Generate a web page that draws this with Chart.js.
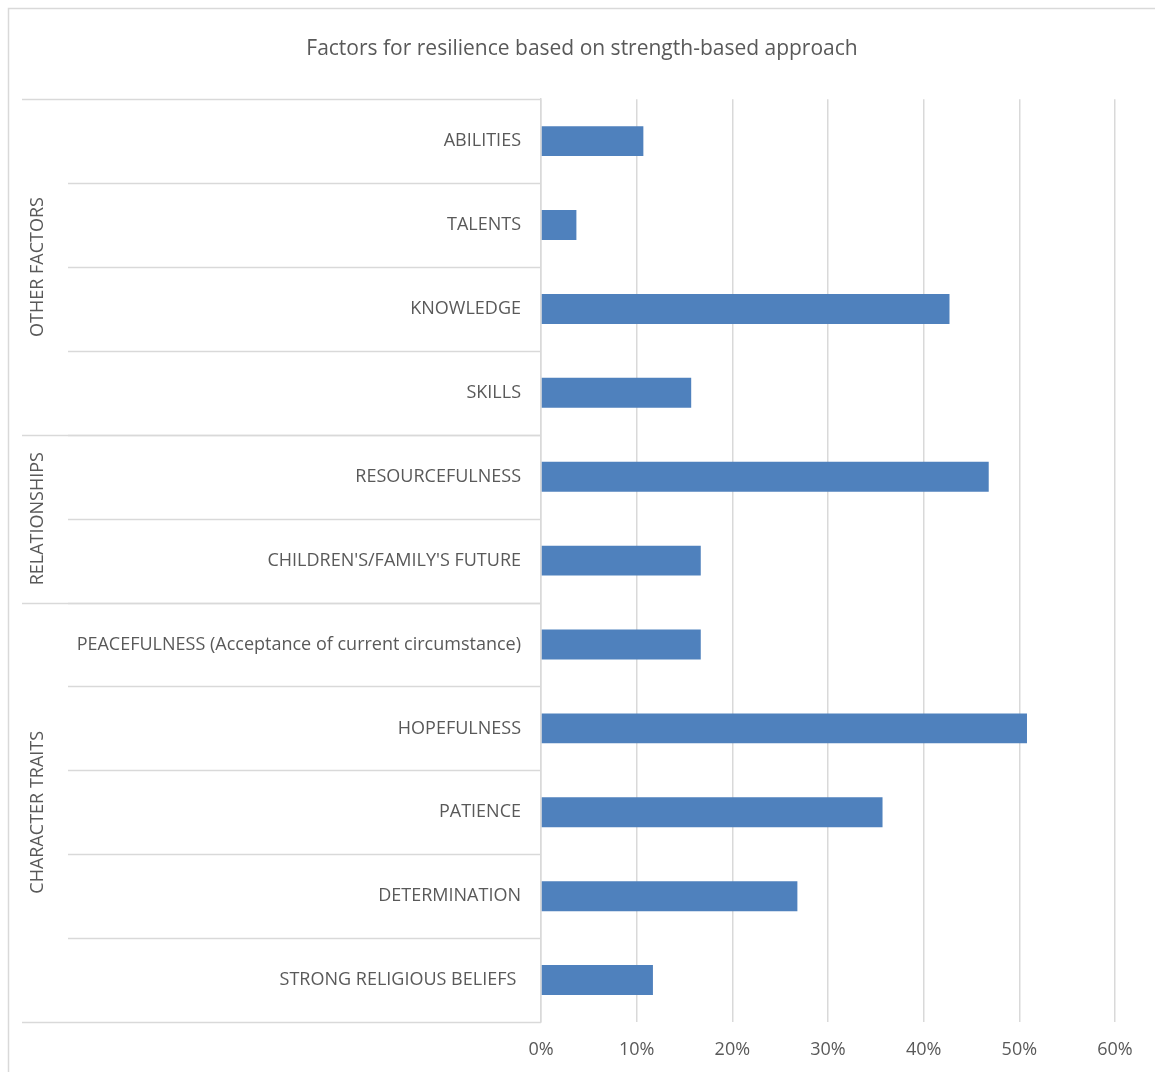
<!DOCTYPE html>
<html>
<head>
<meta charset="utf-8">
<script src="https://cdn.jsdelivr.net/npm/chart.js@4/dist/chart.umd.min.js"></script>
<style>
  html, body { margin: 0; padding: 0; background: #fff; }
  #wrap { width: 1155px; height: 1072px; position: relative; }
</style>
</head>
<body>
<div id="wrap"><canvas id="chart"></canvas></div>
<script>
const categories = [
  'ABILITIES',
  'TALENTS',
  'KNOWLEDGE',
  'SKILLS',
  'RESOURCEFULNESS',
  "CHILDREN'S/FAMILY'S FUTURE",
  'PEACEFULNESS (Acceptance of current circumstance)',
  'HOPEFULNESS',
  'PATIENCE',
  'DETERMINATION',
  'STRONG RELIGIOUS BELIEFS '
]
const values = [10.7, 3.7, 42.7, 15.7, 46.8, 16.7, 16.7, 50.8, 35.7, 26.8, 11.7]
const groupNames = ['OTHER FACTORS', 'RELATIONSHIPS', 'CHARACTER TRAITS']
const groupSizes = [4, 2, 5]
const xTicks = [0, 10, 20, 30, 40, 50, 60]

const textColor = '#595959'
const lineColor = '#D9D9D9'
const fontFamily = "'Open Sans', 'Noto Sans', sans-serif"

// frame, group labels and the category separators on the left
const groupPlugin = {
  id: 'groups',
  beforeDraw (chart) {
    const ctx = chart.ctx
    ctx.save()
    ctx.strokeStyle = lineColor
    ctx.lineWidth = 1.5
    ctx.strokeRect(8.5, 8.5, 1300, 1300)
    ctx.restore()
  },
  afterDraw (chart) {
    const ctx = chart.ctx
    const y = chart.scales.y
    const area = chart.chartArea
    const half = (y.getPixelForValue(1) - y.getPixelForValue(0)) / 2
    const edge = i => y.getPixelForValue(i) - half
    ctx.save()
    ctx.strokeStyle = lineColor
    ctx.lineWidth = 1.5
    // inner separators
    for (let i = 1; i < categories.length; i++) {
      ctx.beginPath()
      ctx.moveTo(68, Math.round(edge(i)) + 0.5)
      ctx.lineTo(area.left, Math.round(edge(i)) + 0.5)
      ctx.stroke()
    }
    // group separators + group labels
    let start = 0
    ctx.fillStyle = textColor
    ctx.font = '18px ' + fontFamily
    ctx.textAlign = 'center'
    ctx.textBaseline = 'middle'
    for (let g = 0; g <= groupNames.length; g++) {
      const yy = Math.round(edge(start)) + 0.5
      ctx.beginPath()
      ctx.moveTo(22, yy)
      ctx.lineTo(area.left, yy)
      ctx.stroke()
      if (g < groupNames.length) {
        const mid = (edge(start) + edge(start + groupSizes[g])) / 2
        ctx.save()
        ctx.translate(38, mid)
        ctx.rotate(-Math.PI / 2)
        ctx.fillText(groupNames[g], 0, 0)
        ctx.restore()
        start += groupSizes[g]
      }
    }
    ctx.restore()
  }
}

new Chart(document.getElementById('chart'), {
  type: 'bar',
  data: {
    labels: categories,
    datasets: [{
      data: values,
      backgroundColor: '#4F81BD',
      borderWidth: 0,
      categoryPercentage: 1,
      barPercentage: 0.357
    }]
  },
  options: {
    indexAxis: 'y',
    responsive: true,
    maintainAspectRatio: false,
    animation: false,
    layout: { padding: { left: 49, right: 40, top: 0, bottom: 0 } },
    plugins: {
      legend: { display: false },
      tooltip: { enabled: false },
      title: {
        display: true,
        text: 'Factors for resilience based on strength-based approach',
        color: textColor,
        font: { family: fontFamily, size: 21, weight: 'normal', lineHeight: 1.2 },
        padding: { top: 36, bottom: 38 }
      }
    },
    scales: {
      x: {
        min: 0,
        max: 60,
        afterFit: s => { s.height = 50 },
        afterBuildTicks: s => { s.ticks = xTicks.map(v => ({ value: v })) },
        grid: { color: lineColor, lineWidth: 1.5, drawTicks: false },
        border: { display: false },
        ticks: {
          color: textColor,
          padding: 17,
          font: { family: fontFamily, size: 18 },
          callback: v => v + '%'
        }
      },
      y: {
        afterFit: s => { s.width = 492 },
        grid: { display: false, drawTicks: false },
        border: { color: lineColor, width: 1.5 },
        ticks: {
          color: textColor,
          padding: 20,
          autoSkip: false,
          font: { family: fontFamily, size: 18 }
        }
      }
    }
  },
  plugins: [groupPlugin]
})
</script>
</body>
</html>
